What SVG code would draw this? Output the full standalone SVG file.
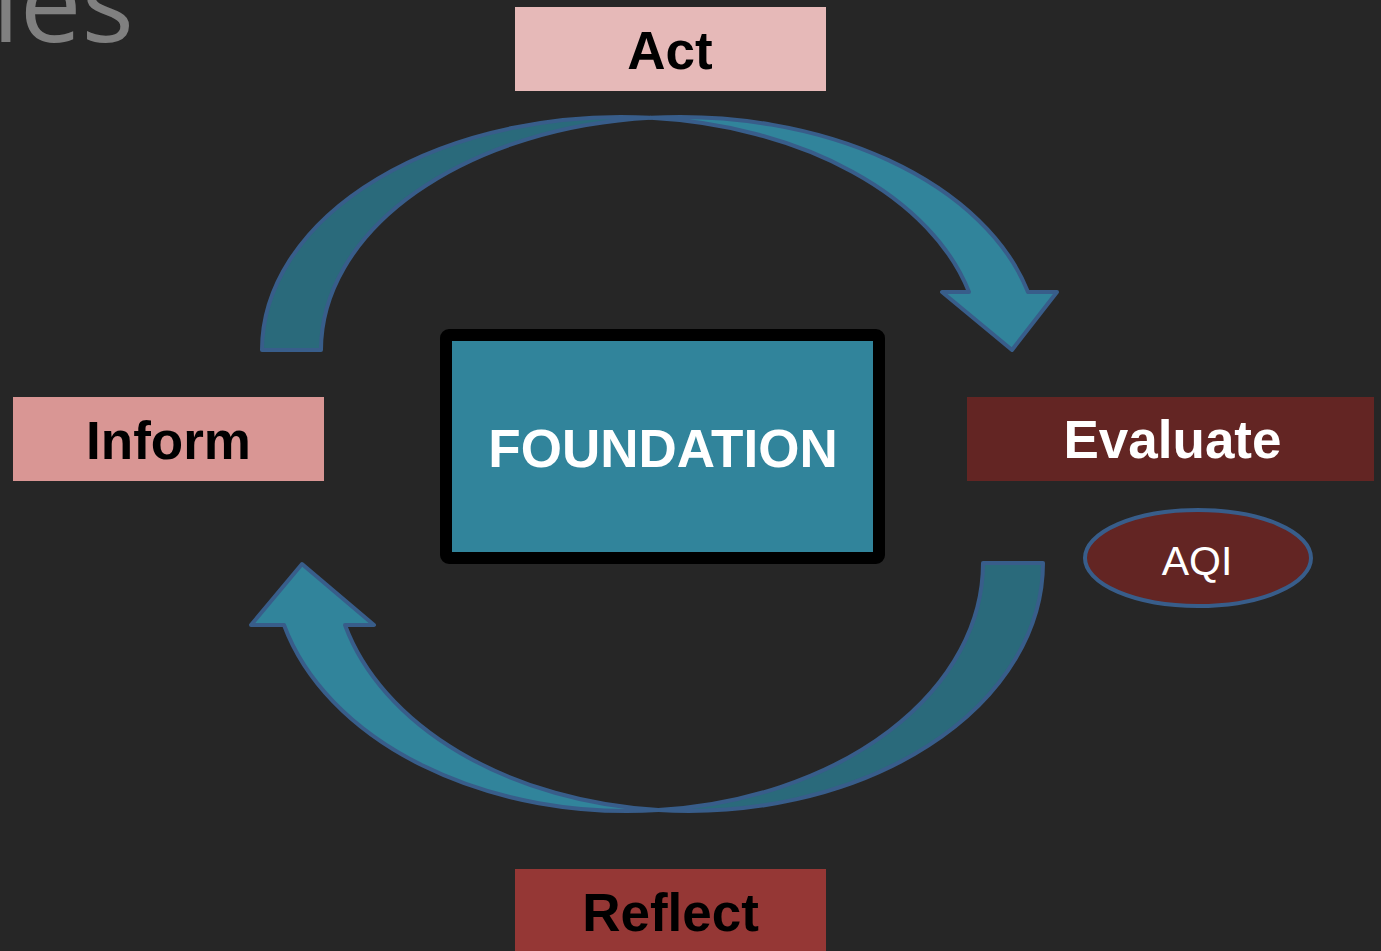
<svg xmlns="http://www.w3.org/2000/svg" width="1381" height="951" viewBox="0 0 1381 951">
  <style>
    .label { font-family: "Liberation Sans", Arial, sans-serif; font-weight: bold; font-size: 53px; text-anchor: middle; }
    .band-back { fill: #2a6a7b; stroke: #385d8a; stroke-width: 4; stroke-linejoin: round; }
    .band-front { fill: #31849b; stroke: #385d8a; stroke-width: 4; stroke-linejoin: round; }
  </style>

  <!-- slide background -->
  <rect x="0" y="0" width="1381" height="951" fill="#262626"/>

  <!-- tail of the slide title, cut off at the top-left corner -->
  <text x="134" y="42" font-family="'Open Sans', 'Liberation Sans', sans-serif" font-weight="400" font-size="110" fill="#808080" text-anchor="end">les</text>

  <!-- cycle arrows -->
  <g id="connectors">
    <!-- upper curved arrow: Inform side up and over to Evaluate side -->
    <g id="arrow-top">
      <path class="band-back" d="M 262,350 A 359.1 233 0 0 1 650.6,117.8 A 359.1 233 0 0 0 321,350 Z"/>
      <path class="band-front" d="M 650.6,117.8 A 359.1 233 0 0 1 1028,292 L 1057,292 L 1012,350 L 942,292 L 969,292 A 359.1 233 0 0 0 650.6,117.8 Z"/>
    </g>
    <!-- lower curved arrow: Evaluate side down and round to Inform side -->
    <g id="arrow-bottom">
      <path class="band-back" d="M 1043,563 A 354.6 248 0 0 1 658.4,810.1 A 354.6 248 0 0 0 983,563 Z"/>
      <path class="band-front" d="M 658.4,810.1 A 354.6 248 0 0 1 284,625 L 251,625 L 302,564 L 374,625 L 345,625 A 354.6 248 0 0 0 658.4,810.1 Z"/>
    </g>
  </g>

  <g id="foundation">
    <rect x="446" y="335" width="433" height="223" rx="3" fill="#31849b" stroke="#000000" stroke-width="12"/>
    <text class="label" x="663" y="467" font-size="52" fill="#ffffff">FOUNDATION</text>
  </g>

  <g id="act">
    <rect x="515" y="7" width="311" height="84" fill="#e6b9b8"/>
    <text class="label" x="670" y="69" fill="#000000">Act</text>
  </g>

  <g id="inform">
    <rect x="13" y="397" width="311" height="84" fill="#d99694"/>
    <text class="label" x="168.5" y="459" fill="#000000">Inform</text>
  </g>

  <g id="evaluate">
    <rect x="967" y="397" width="407" height="84" fill="#632523"/>
    <text class="label" x="1172.5" y="458" fill="#ffffff">Evaluate</text>
  </g>

  <g id="reflect">
    <rect x="515" y="869" width="311" height="90" fill="#953735"/>
    <text class="label" x="670.5" y="931" fill="#000000">Reflect</text>
  </g>

  <g id="aqi">
    <ellipse cx="1198" cy="558" rx="113" ry="48" fill="#632523" stroke="#385d8a" stroke-width="4"/>
    <text x="1197" y="575" font-family="'Liberation Sans', Arial, sans-serif" font-size="41" fill="#ffffff" text-anchor="middle">AQI</text>
  </g>
</svg>
